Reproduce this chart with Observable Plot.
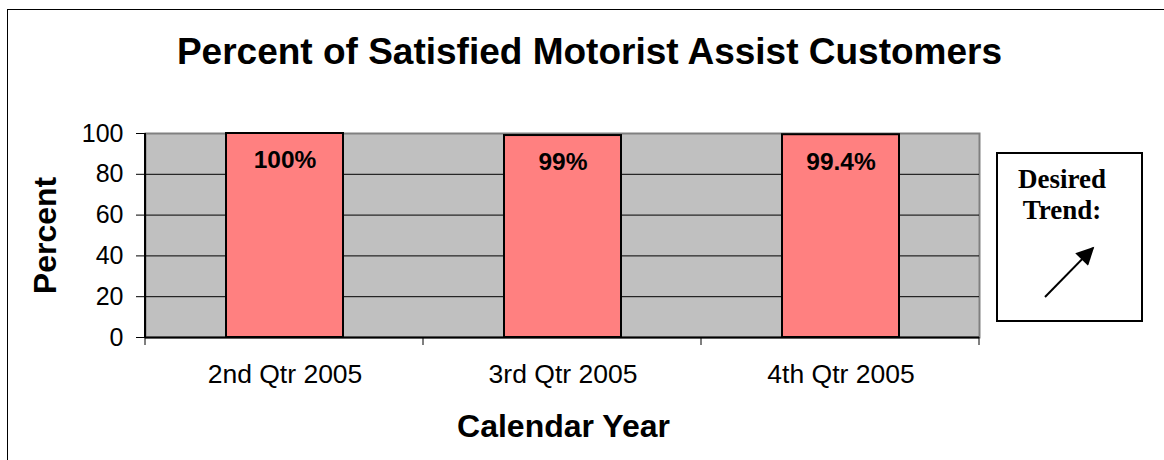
<!DOCTYPE html>
<html>
<head>
<meta charset="utf-8">
<script src="https://cdn.jsdelivr.net/npm/d3@7"></script>
<script src="https://cdn.jsdelivr.net/npm/@observablehq/plot@0.6"></script>
<style>
  html, body { margin: 0; padding: 0; background: #fff; }
  #wrap { position: relative; width: 1164px; height: 460px; overflow: hidden; }
  #frame { position: absolute; left: 7px; top: 9px; width: 1200px; height: 500px;
           border-left: 1px solid #000; border-top: 1px solid #000; }
  #chart { position: absolute; left: 0; top: 0; }
  #trend { position: absolute; left: 996px; top: 152px; width: 143px; height: 166px;
           border: 2px solid #000; background: #fff; box-sizing: content-box; }
  #trend .t { position: absolute; left: 0; width: 128px; top: 10px; text-align: center;
              font-family: "Liberation Serif", "Times New Roman", serif; font-weight: bold;
              font-size: 27px; line-height: 31px; color: #000; }
  #trend svg { position: absolute; left: 0; top: 0; }
</style>
</head>
<body>
<div id="wrap">
  <div id="frame"></div>
  <div id="chart"></div>
  <div id="trend">
    <div class="t">Desired<br>Trend:</div>
    <svg width="143" height="166">
      <defs>
        <marker id="ah" viewBox="0 0 10 10" refX="9" refY="5" markerWidth="11" markerHeight="9" orient="auto">
          <path d="M0,0 L10,5 L0,10 z" fill="#000"/>
        </marker>
      </defs>
      <line x1="47" y1="143" x2="95" y2="94" stroke="#000" stroke-width="2" marker-end="url(#ah)"/>
    </svg>
  </div>
</div>
<script>
const quarters = ["2nd Qtr 2005", "3rd Qtr 2005", "4th Qtr 2005"];
const values = [100, 99, 99.4];
const valueLabels = ["100%", "99%", "99.4%"];
const yTicks = [0, 20, 40, 60, 80, 100];
const chartTitle = "Percent of Satisfied Motorist Assist Customers";
const xTitle = "Calendar Year";
const yTitle = "Percent";

const data = quarters.map((q, i) => ({q, v: values[i], label: valueLabels[i]}));

const W = 1164, H = 460;
const mL = 145, mR = 185, mT = 133, mB = 123;
const pInner = 0.58;

const plot = Plot.plot({
  width: W, height: H,
  marginLeft: mL, marginRight: mR, marginTop: mT, marginBottom: mB,
  style: {fontFamily: "'Liberation Sans', Arial, sans-serif", color: "#000", background: "transparent"},
  x: {domain: quarters, paddingInner: pInner, paddingOuter: pInner / 2, label: null},
  y: {domain: [0, 100], label: null},
  marks: [
    Plot.frame({fill: "#C0C0C0", stroke: "#808080", strokeWidth: 2}),
    Plot.gridY(yTicks.filter(d => d > 0 && d < 100), {stroke: "#000", strokeOpacity: 1, strokeWidth: 1}),
    Plot.barY(data, {x: "q", y: "v", fill: "#FF8080", stroke: "#000", strokeWidth: 2}),
    Plot.ruleY([0], {stroke: "#000", strokeWidth: 2}),
    Plot.axisY({ticks: yTicks, tickSize: 9, tickPadding: 13, fontSize: 25, label: null, stroke: "#000"}),
    Plot.axisX({tickSize: 0, tickPadding: 27, fontSize: 26.5, label: null}),
    Plot.text(data, {x: "q", y: "v", text: "label", dy: 27, fontSize: 24.5, fontWeight: "bold", fill: "#000"}),
    Plot.text([chartTitle], {frameAnchor: "top", dx: 27, dy: -70, lineAnchor: "bottom", fontSize: 37, fontWeight: "bold", fill: "#000"}),
    Plot.text([xTitle], {frameAnchor: "bottom", dx: 1, dy: 99, lineAnchor: "bottom", fontSize: 32, fontWeight: "bold", fill: "#000"}),
    Plot.text([yTitle], {frameAnchor: "left", textAnchor: "middle", dx: -100, rotate: -90, fontSize: 32, fontWeight: "bold", fill: "#000"})
  ]
});

document.getElementById("chart").appendChild(plot);

// left axis line and category-boundary ticks on the x axis
const xs = plot.scale("x");
const svg = d3.select(plot);
const xScale = d3.scaleBand().domain(xs.domain).range(xs.range).paddingInner(pInner).paddingOuter(pInner / 2);
const step = xScale.step();
const bounds = quarters.map(q => xScale(q) - xScale.paddingInner() * step / 2);
bounds.push(bounds[bounds.length - 1] + step);
const y0 = H - mB;
svg.append("line").attr("x1", mL).attr("x2", mL).attr("y1", mT).attr("y2", y0)
  .attr("stroke", "#000").attr("stroke-width", 2);
svg.append("g").selectAll("line").data(bounds).join("line")
  .attr("x1", d => d).attr("x2", d => d).attr("y1", y0).attr("y2", y0 + 8)
  .attr("stroke", "#000").attr("stroke-width", 1);
</script>
</body>
</html>
